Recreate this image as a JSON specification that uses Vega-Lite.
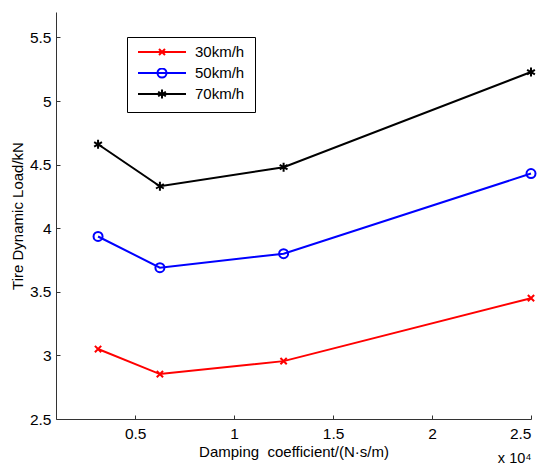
{
  "$schema": "https://vega.github.io/schema/vega-lite/v6.json",
  "width": 475,
  "height": 407,
  "autosize": {"type": "none"},
  "padding": {"left": 56, "top": 12, "right": 13, "bottom": 47},
  "background": "white",
  "config": {
    "view": {"stroke": null},
    "font": "Liberation Sans",
    "axis": {
      "labelFont": "Liberation Sans",
      "titleFont": "Liberation Sans",
      "labelFontSize": 15.5,
      "titleFontSize": 15,
      "titleFontWeight": "normal",
      "labelColor": "black",
      "titleColor": "black",
      "domainColor": "#333333",
      "tickColor": "#333333",
      "grid": false,
      "tickSize": -4
    }
  },
  "data": {
    "values": [
      {"speed": "30km/h", "damping": 0.3125, "load": 3.05},
      {"speed": "30km/h", "damping": 0.625, "load": 2.853},
      {"speed": "30km/h", "damping": 1.25, "load": 2.955},
      {"speed": "30km/h", "damping": 2.5, "load": 3.45},
      {"speed": "50km/h", "damping": 0.3125, "load": 3.935},
      {"speed": "50km/h", "damping": 0.625, "load": 3.69},
      {"speed": "50km/h", "damping": 1.25, "load": 3.80},
      {"speed": "50km/h", "damping": 2.5, "load": 4.43},
      {"speed": "70km/h", "damping": 0.3125, "load": 4.66},
      {"speed": "70km/h", "damping": 0.625, "load": 4.33},
      {"speed": "70km/h", "damping": 1.25, "load": 4.48},
      {"speed": "70km/h", "damping": 2.5, "load": 5.228}
    ]
  },
  "resolve": {"axis": {"x": "independent"}},
  "layer": [
    {
      "mark": {"type": "line", "strokeWidth": 2},
      "encoding": {
        "x": {
          "field": "damping", "type": "quantitative",
          "scale": {"domain": [0.1, 2.5], "nice": false, "zero": false},
          "axis": {
            "orient": "bottom",
            "title": "Damping\u00a0 coefficient/(N·s/m)",
            "values": [0.5, 1, 1.5, 2, 2.5],
            "labelExpr": "'' + datum.value",
            "labelPadding": 11,
            "titlePadding": 3
          }
        },
        "y": {
          "field": "load", "type": "quantitative",
          "scale": {"domain": [2.5, 5.7], "nice": false, "zero": false},
          "axis": {
            "title": "Tire Dynamic Load/kN",
            "values": [2.5, 3, 3.5, 4, 4.5, 5, 5.5],
            "labelExpr": "'' + datum.value",
            "labelPadding": 9,
            "titlePadding": 4
          }
        },
        "color": {
          "field": "speed", "type": "nominal",
          "scale": {"domain": ["30km/h", "50km/h", "70km/h"], "range": ["#ff0000", "#0000ff", "#000000"]},
          "legend": {
            "title": null,
            "orient": "none",
            "legendX": 71,
            "legendY": 25,
            "strokeColor": "black",
            "fillColor": "white",
            "padding": 10,
            "cornerRadius": 0,
            "labelFont": "Liberation Sans",
            "labelFontSize": 15,
            "labelColor": "black",
            "labelOffset": 8,
            "symbolSize": 2304,
            "symbolStrokeWidth": 2,
            "clipHeight": 10,
            "rowPadding": 6,
            "encode": {
              "symbols": {
                "update": {
                  "shape": {"signal": "datum.value == '30km/h' ? 'M-1,0H1M-0.125,-0.125L0.125,0.125M-0.125,0.125L0.125,-0.125' : datum.value == '50km/h' ? 'M-1,0H1M0.1875,0A0.1875,0.1875 0 1,1 -0.1875,0A0.1875,0.1875 0 1,1 0.1875,0' : 'M-1,0H1M0,-0.1875V0.1875M-0.162,-0.094L0.162,0.094M-0.162,0.094L0.162,-0.094'"},
                  "fill": {"value": "transparent"},
                  "strokeWidth": {"value": 2}
                }
              }
            }
          }
        }
      }
    },
    {
      "transform": [{"filter": "datum.speed == '30km/h'"}],
      "mark": {"type": "point", "filled": false, "strokeWidth": 2, "size": 81, "opacity": 1, "color": "#ff0000", "shape": "M-0.7,-0.7L0.7,0.7M-0.7,0.7L0.7,-0.7"},
      "encoding": {
        "x": {
          "field": "damping", "type": "quantitative",
          "scale": {"domain": [0.1, 2.5], "nice": false, "zero": false},
          "axis": {
            "orient": "bottom",
            "title": "x 10⁴",
            "titleAnchor": "end",
            "labels": false,
            "ticks": false,
            "domain": false,
            "titleFontSize": 14.5,
            "titlePadding": 32
          }
        },
        "y": {"field": "load", "type": "quantitative"}
      }
    },
    {
      "transform": [{"filter": "datum.speed == '50km/h'"}],
      "mark": {"type": "point", "filled": false, "strokeWidth": 2, "size": 81, "opacity": 1, "color": "#0000ff", "shape": "M1,0A1,1 0 1,1 -1,0A1,1 0 1,1 1,0"},
      "encoding": {
        "x": {"field": "damping", "type": "quantitative", "scale": {"domain": [0.1, 2.5], "nice": false, "zero": false}, "axis": null},
        "y": {"field": "load", "type": "quantitative"}
      }
    },
    {
      "transform": [{"filter": "datum.speed == '70km/h'"}],
      "mark": {"type": "point", "filled": false, "strokeWidth": 2, "size": 81, "opacity": 1, "color": "#000000", "shape": "M0,-1V1M-0.87,-0.5L0.87,0.5M-0.87,0.5L0.87,-0.5"},
      "encoding": {
        "x": {"field": "damping", "type": "quantitative", "scale": {"domain": [0.1, 2.5], "nice": false, "zero": false}, "axis": null},
        "y": {"field": "load", "type": "quantitative"}
      }
    }
  ]
}
